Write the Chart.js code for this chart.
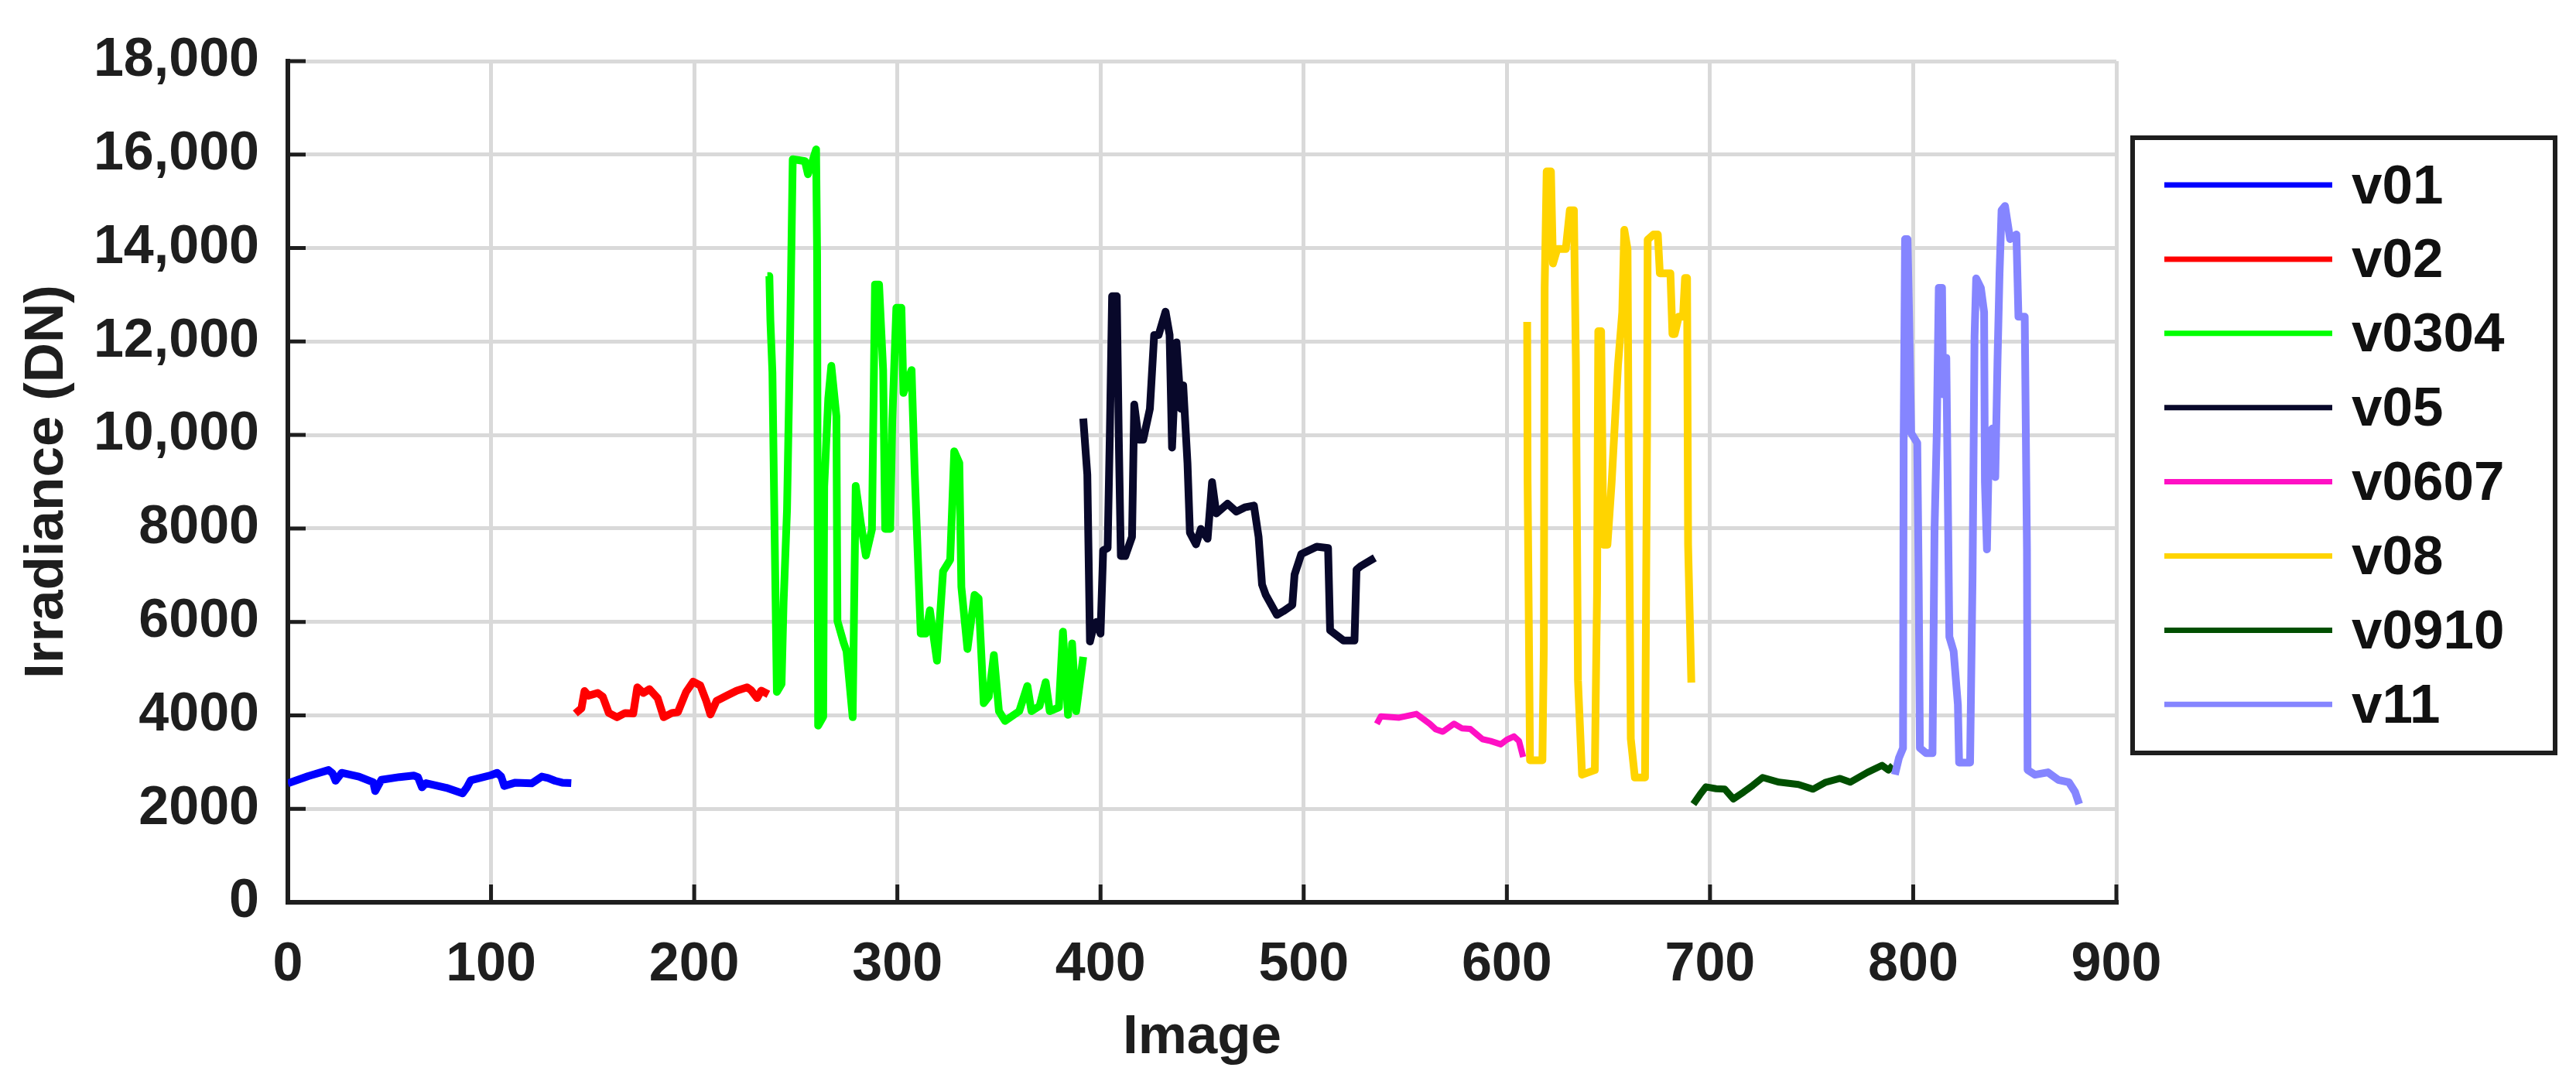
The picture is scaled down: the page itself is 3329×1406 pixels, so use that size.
<!DOCTYPE html>
<html>
<head>
<meta charset="utf-8">
<script src="https://cdn.jsdelivr.net/npm/chart.js@4.4.1/dist/chart.umd.min.js"></script>
<style>
  html, body { margin: 0; padding: 0; background: #fff; }
  canvas { display: block; }
</style>
</head>
<body>
<canvas id="myChart" width="3329" height="1406"></canvas>
<script>
// series: [image, irradiance]
const v01 = [[0,2545],[10,2700],[20,2830],[22,2760],[23.5,2600],[26.5,2770],[35,2690],[42,2570],[43,2380],[46,2620],[55,2680],[62,2710],[64,2680],[66,2460],[68,2550],[78,2450],[86,2330],[88,2450],[90,2610],[100,2720],[103,2770],[105,2690],[106.5,2490],[112,2560],[120,2545],[125,2690],[128,2660],[131.5,2600],[135,2560],[139.5,2550]];
const v02 = [[141.5,4040],[144.5,4150],[146,4520],[148,4420],[152.5,4480],[155,4400],[158,4050],[162,3960],[166,4050],[170,4040],[172,4600],[175,4480],[178,4560],[182,4370],[185,3960],[189,4050],[192,4070],[196,4500],[199.5,4720],[203,4640],[206,4300],[208,4020],[211,4310],[216,4420],[221,4530],[226,4600],[228,4540],[231,4370],[233,4530],[236.5,4450]];
const v0304 = [[236,13400],[237,13400],[237.5,12450],[238.5,11340],[239.5,8150],[240.7,4500],[243,4670],[244,6410],[245.7,8410],[247.2,12060],[248.5,15900],[254.5,15860],[256,15580],[258.5,15900],[260,16110],[260.5,13850],[261,3780],[263.5,3970],[264,8900],[266,10780],[267.5,11480],[270,10400],[270.5,6020],[273.5,5560],[275,5370],[278,3960],[279.5,8910],[282,8120],[284.5,7420],[287.5,7980],[289,13220],[291,13220],[293,11390],[294,7990],[296.5,7990],[297.5,10310],[299.5,12720],[302,12720],[303,10900],[307,11390],[308.5,9240],[311.5,5750],[314,5750],[316,6250],[319.5,5170],[322.5,7080],[326,7330],[328,9650],[330.5,9400],[331.5,6750],[334.5,5420],[338,6580],[340,6500],[342.5,4260],[345,4400],[347.5,5290],[350,4090],[353,3880],[360,4090],[364,4630],[366,4090],[370,4200],[373,4710],[375,4090],[379.5,4170],[381.5,5790],[384,4010],[386,5540],[388,4090],[391.5,5250]];
const v05 = [[391.5,10350],[393.5,9150],[394.8,5580],[396,5800],[398,6000],[400,5750],[401.3,7530],[403.5,7580],[404.6,10070],[405.7,12970],[408,12970],[409,9900],[410,7410],[412.2,7410],[415.5,7820],[416.6,10650],[418.8,9900],[421,9900],[424.3,10560],[426.4,12140],[428.6,12140],[432,12640],[434,12140],[435.2,9730],[437.4,11980],[439.6,10560],[440.7,11060],[442.8,9400],[444,7910],[447,7660],[449.4,7990],[452.7,7780],[454.9,8990],[457,8320],[462.5,8530],[466.9,8360],[471,8450],[475.5,8490],[477.8,7820],[479.5,6800],[481.3,6580],[486.8,6150],[490,6230],[494.4,6360],[495.5,7010],[498.8,7450],[506.4,7610],[512,7580],[513,5820],[519.6,5600],[525,5600],[526,7120],[528.3,7200],[535,7370]];
const v0607 = [[536,3820],[538,3980],[547,3950],[555.5,4030],[558,3950],[562,3820],[565,3700],[568.5,3650],[574,3820],[578,3720],[582,3710],[585,3600],[588,3490],[592,3450],[597,3380],[600,3480],[603.5,3550],[606,3450],[608,3110]];
const v08 = [[610,12420],[610.2,9000],[611.4,3040],[617.5,3040],[618.2,5470],[618.6,13150],[619.6,15640],[621.7,15640],[622.7,13670],[624.8,13980],[629,13980],[631,14810],[633,14810],[634,11490],[635,4750],[637,2730],[643.3,2830],[644.4,6620],[645,12220],[646.4,12220],[647.5,7650],[649.5,7650],[651.6,9000],[654.7,11490],[656.8,12630],[657.8,14390],[659.4,13980],[660,9210],[661,3500],[663,2670],[668,2670],[669,10040],[669.3,14180],[672.2,14290],[674.3,14290],[675.3,13460],[680.5,13460],[681.5,12160],[682.6,12160],[684.6,12530],[686.7,12530],[687.7,13360],[688.7,13360],[689.2,7650],[690.8,4700]];
const v0910 = [[691.8,2100],[695,2300],[698,2470],[703,2430],[707.3,2420],[711.5,2210],[716.6,2360],[721,2500],[725.9,2670],[734,2570],[743.5,2520],[750.7,2420],[757,2570],[764,2650],[769,2570],[777.5,2780],[784.7,2930],[787.8,2830],[790,2930]];
const v11 = [[791,2730],[793,3090],[795,3300],[795.3,9830],[796,14190],[797.2,14190],[798,12530],[799,10040],[802,9830],[802.7,6930],[803.3,3300],[806.4,3190],[809.5,3190],[810.5,7960],[811.6,10040],[812.6,13150],[814.2,13150],[814.7,10870],[816.3,11650],[817.8,5680],[819.9,5370],[822,4230],[822.6,2990],[828,2990],[829.2,6930],[830.2,12110],[831,13350],[833.3,13150],[834.9,12630],[835.3,9000],[836.3,7550],[837.4,10040],[839,10140],[840.4,9100],[841.5,11590],[842.5,13460],[843.5,14810],[845.2,14900],[847.7,14190],[850.8,14290],[851.8,12530],[854.9,12530],[856,7550],[856.3,2830],[860,2730],[866.3,2780],[871.4,2620],[876.6,2570],[879.7,2360],[881.7,2100]];

const seriesNames = ["v01", "v02", "v0304", "v05", "v0607", "v08", "v0910", "v11"];
const seriesData = [v01, v02, v0304, v05, v0607, v08, v0910, v11];
const seriesColors = ["#0000ff", "#ff0000", "#00ff00", "#08082a", "#ff10c4", "#ffd400", "#004f00", "#8585ff"];
const seriesWidths = [10, 10, 10, 10, 8, 10, 9, 10];

const xTicks = [0, 100, 200, 300, 400, 500, 600, 700, 800, 900];
const yTicks = [0, 2000, 4000, 6000, 8000, 10000, 12000, 14000, 16000, 18000];

const FONT = "'Liberation Sans', Arial, sans-serif";
const INK = "#1e1e1e";

// inward tick marks like the original figure
const innerTicks = {
  id: "innerTicks",
  afterDatasetsDraw(chart) {
    const { ctx, chartArea, scales } = chart;
    ctx.save();
    ctx.strokeStyle = INK;
    ctx.lineWidth = 5;
    ctx.beginPath();
    yTicks.forEach((t) => {
      const y = scales.y.getPixelForValue(t);
      ctx.moveTo(chartArea.left, y);
      ctx.lineTo(chartArea.left + 23, y);
    });
    xTicks.forEach((t) => {
      const x = scales.x.getPixelForValue(t);
      ctx.moveTo(x, chartArea.bottom);
      ctx.lineTo(x, chartArea.bottom - 23);
    });
    ctx.stroke();
    ctx.restore();
  },
};

// boxed legend to the right of the plot
const boxLegend = {
  id: "boxLegend",
  afterDraw(chart) {
    const { ctx, chartArea } = chart;
    const left = chartArea.right + 21, top = 178, width = 546, height = 795;
    ctx.save();
    ctx.strokeStyle = INK;
    ctx.lineWidth = 6;
    ctx.strokeRect(left, top, width, height);
    ctx.font = "bold 71px " + FONT;
    ctx.textBaseline = "middle";
    ctx.fillStyle = "#111";
    chart.data.datasets.forEach((ds, i) => {
      const y = 239 + i * 95.9;
      ctx.strokeStyle = ds.borderColor;
      ctx.lineWidth = 7;
      ctx.beginPath();
      ctx.moveTo(left + 41, y);
      ctx.lineTo(left + 258, y);
      ctx.stroke();
      ctx.fillText(ds.label, left + 283, y + 4);
    });
    ctx.restore();
  },
};

const ctx = document.getElementById("myChart");
new Chart(ctx, {
  type: "line",
  data: {
    datasets: seriesNames.map((name, i) => ({
      label: name,
      data: seriesData[i].map((p) => ({ x: p[0], y: p[1] })),
      borderColor: seriesColors[i],
      backgroundColor: seriesColors[i],
      borderWidth: seriesWidths[i],
      borderJoinStyle: "round",
      pointRadius: 0,
      tension: 0,
      fill: false,
      order: -i,
    })),
  },
  options: {
    responsive: false,
    animation: false,
    devicePixelRatio: 1,
    layout: { padding: { left: 0, top: 59, right: 594, bottom: 0 } },
    plugins: {
      legend: { display: false },
      tooltip: { enabled: false },
    },
    scales: {
      x: {
        type: "linear",
        min: 0,
        max: 900,
        afterBuildTicks: (s) => { s.ticks = xTicks.map((v) => ({ value: v })); },
        afterFit: (s) => { s.height = 240; },
        grid: { color: "#d9d9d9", lineWidth: 5, drawTicks: false },
        border: { display: true, color: INK, width: 6 },
        ticks: {
          padding: 40,
          maxRotation: 0,
          autoSkip: false,
          color: INK,
          font: { family: FONT, size: 70, weight: "bold" },
        },
        title: {
          display: true,
          text: "Image",
          color: INK,
          padding: { top: 0, bottom: 22 },
          font: { family: FONT, size: 71, weight: "bold" },
        },
      },
      y: {
        min: 0,
        max: 18000,
        afterBuildTicks: (s) => { s.ticks = yTicks.map((v) => ({ value: v })); },
        afterFit: (s) => { s.width = 372; },
        grid: { color: "#d9d9d9", lineWidth: 5, drawTicks: false },
        border: { display: true, color: INK, width: 6 },
        ticks: {
          padding: 37,
          autoSkip: false,
          color: INK,
          font: { family: FONT, size: 70, weight: "bold" },
          callback: (v) => (v >= 10000 ? v.toLocaleString("en-US") : String(v)),
        },
        title: {
          display: true,
          text: "Irradiance (DN)",
          color: INK,
          padding: { top: 19, bottom: 0 },
          font: { family: FONT, size: 71, weight: "bold" },
        },
      },
    },
  },
  plugins: [innerTicks, boxLegend],
});
</script>
</body>
</html>
